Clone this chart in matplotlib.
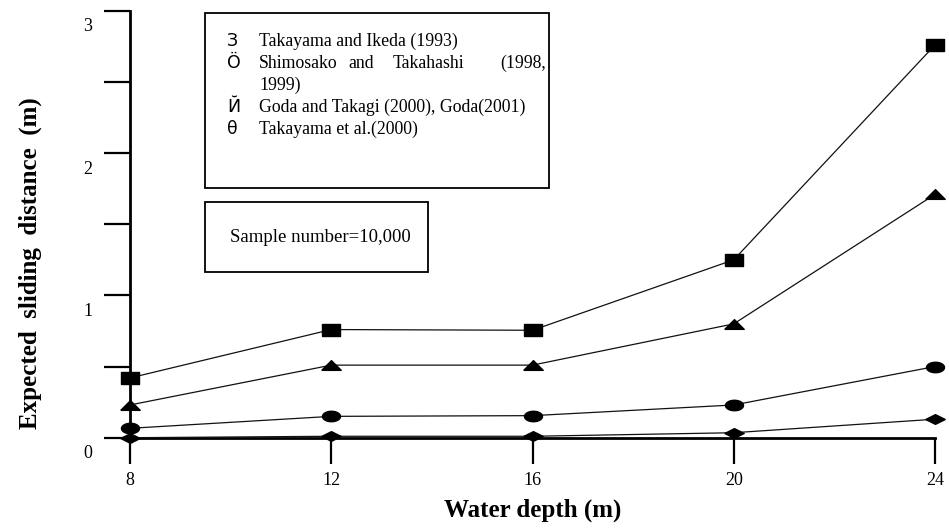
import matplotlib
matplotlib.use("Agg")
import matplotlib.pyplot as plt
import matplotlib.transforms as mtransforms
from matplotlib.patches import Rectangle
import numpy as np

# data
depth = [8, 12, 16, 20, 24]
takayama_ikeda = [0.42, 0.76, 0.755, 1.25, 2.76]
shimosako_takahashi = [0.23, 0.51, 0.51, 0.80, 1.71]
goda_takagi = [0.066, 0.15, 0.155, 0.23, 0.50]
takayama_etal = [0.0, 0.01, 0.01, 0.035, 0.13]

legend_syms = ["З", "Ö", "Й", "θ"]
legend_names = ["Takayama and Ikeda (1993)",
                "Shimosako and Takahashi (1998,",
                "Goda and Takagi (2000), Goda(2001)",
                "Takayama et al.(2000)"]
y_ticks = [0, 1, 2, 3]

W, H = 949, 530
serif = "Liberation Serif"

def fx(px):
    return px / W

def fy(py):
    return 1 - py / H

# stretched markers (the original figure is squashed vertically)
sq = [(-1, -0.62), (1, -0.62), (1, 0.62), (-1, 0.62), (-1, -0.62)]
tri = [(-1, -0.5), (0, 0.5), (1, -0.5), (-1, -0.5)]
t = np.linspace(0, 2 * np.pi, 40)
ell = list(zip(np.cos(t), 0.58 * np.sin(t)))
dia = [(-1, 0), (0, 0.5), (1, 0), (0, -0.5), (-1, 0)]

fig = plt.figure(figsize=(W / 100, H / 100), dpi=100)
ax = fig.add_axes([fx(130), fy(437.7), fx(935) - fx(130), fy(10.8) - fy(437.7)])

series = [(takayama_ikeda, sq, 13), (shimosako_takahashi, tri, 14),
          (goda_takagi, ell, 13), (takayama_etal, dia, 14)]
for vals, mk, ms in series:
    ax.plot(depth, vals, color="#111111", lw=0.9, marker=mk, markersize=ms,
            markerfacecolor="black", markeredgecolor="black", clip_on=False, zorder=3)

ax.set_xlim(8, 24)
ax.set_ylim(0, 3)
ax.set_xticks(depth)
ax.set_xticklabels([str(d) for d in depth], fontfamily=serif, fontsize=13)
ax.set_yticks(y_ticks)
ax.set_yticks([0.5, 1.5, 2.5], minor=True)
ax.set_yticklabels([str(v) for v in y_ticks], fontfamily=serif, fontsize=13)

for s in ["top", "right"]:
    ax.spines[s].set_visible(False)
for s in ["left", "bottom"]:
    ax.spines[s].set_linewidth(2)
ax.tick_params(axis="both", which="both", direction="out", length=19, width=1.6, color="black")
ax.tick_params(axis="y", pad=8)
ax.tick_params(axis="x", pad=6)

# y tick labels sit a bit below their ticks in the original
off = mtransforms.ScaledTranslation(0, -14 / 100, fig.dpi_scale_trans)
for lab in ax.get_yticklabels():
    lab.set_transform(lab.get_transform() + off)

fig.text(fx(30), fy(263), "Expected  sliding  distance  (m)", rotation=90,
         ha="center", va="center", fontfamily=serif, fontweight="bold", fontsize=18)
fig.text(fx(533), fy(510), "Water depth (m)", ha="center", va="center",
         fontfamily=serif, fontweight="bold", fontsize=18)

# legend box
fig.patches.append(Rectangle((fx(205), fy(188)), fx(549) - fx(205), fy(13) - fy(188),
                             transform=fig.transFigure, fill=False, lw=1.3, ec="black"))
rows_y = [41, 63, 107, 129]
for sym, name, ry in zip(legend_syms, legend_names, rows_y):
    fig.text(fx(227), fy(ry), sym, ha="left", va="center", fontfamily="DejaVu Sans", fontsize=12.5)
    if name.startswith("Shimosako"):
        for word, wx in zip(name.split(), [259, 348, 393, 500]):
            fig.text(fx(wx), fy(ry), word, ha="left", va="center", fontfamily=serif, fontsize=12.8)
    else:
        fig.text(fx(259), fy(ry), name, ha="left", va="center", fontfamily=serif, fontsize=12.8)
fig.text(fx(259), fy(85), "1999)", ha="left", va="center", fontfamily=serif, fontsize=12.8)

# sample number box
fig.patches.append(Rectangle((fx(205), fy(272)), fx(428) - fx(205), fy(202) - fy(272),
                             transform=fig.transFigure, fill=False, lw=1.3, ec="black"))
fig.text(fx(320), fy(238), "Sample number=10,000", ha="center", va="center",
         fontfamily=serif, fontsize=13.5)

fig.savefig("out.png", dpi=100)
